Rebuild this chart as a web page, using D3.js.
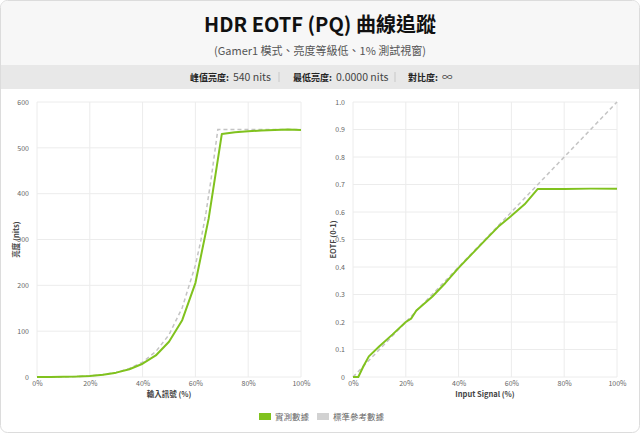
<!DOCTYPE html>
<html><head><meta charset="utf-8">
<script src="https://cdn.jsdelivr.net/npm/d3@7/dist/d3.min.js"></script>
<style>
html,body{margin:0;padding:0;background:#fff;}
svg{display:block;font-family:"Noto Sans CJK TC","Noto Sans",sans-serif;}
</style></head><body>
<svg id="c" width="640" height="433"></svg>
<script>
const title = "HDR EOTF (PQ) 曲線追蹤";
const subtitle = "(Gamer1 模式、亮度等級低、1% 測試視窗)";
const statLabels = ["峰值亮度:", "最低亮度:", "對比度:"];
const statValues = ["540 nits", "0.0000 nits", "∞"];
const legendLabels = ["實測數據", "標準參考數據"];

// Left chart: luminance (nits) vs input signal (%)
const lumX = [0,5,10,15,20,25,30,35,40,45,50,55,60,65,70,75,80,85,90,95,100];
const lumMeasured = [0,0.05,0.3,0.9,2.2,4.8,9.5,17,29,47,77,124,205,345,530,534,536,538,539,540,539];
const lumRefX = [0,5,10,15,20,25,30,35,40,45,50,55,60,62,64,66,68.5,70,75,80,85,90,95,100];
const lumRef = [0,0.06,0.32,1.0,2.4,5.2,10.1,18.4,32.6,55.4,92.2,151,244,296,358,434,540,540,540,540,540,540,540,540];
const lumYTicks = [0,100,200,300,400,500,600];
const xTicks = [0,20,40,60,80,100];

// Right chart: normalized EOTF (0-1) vs input signal (%)
const eotfX = [0,2,4,6,10,15,20,22,24,30,35,40,45,50,55,60,65,70,80,90,100];
const eotfMeasured = [0,0,0.04,0.075,0.112,0.155,0.2,0.212,0.242,0.292,0.342,0.397,0.447,0.497,0.546,0.586,0.628,0.684,0.684,0.685,0.685];
const eotfRefX = [0,2,10,20,30,40,50,60,70,80,90,100];
const eotfRef = [0,0.02,0.1,0.2,0.3,0.4,0.5,0.6,0.7,0.8,0.9,1.0];
const eotfYTicks = [0,0.1,0.2,0.3,0.4,0.5,0.6,0.7,0.8,0.9,1.0];

const GREEN = "#80c21e", REF = "#c4c4c4";
const svg = d3.select("#c");

// card
svg.append("rect").attr("x",0.5).attr("y",0.5).attr("width",639).attr("height",432).attr("rx",7).attr("fill","#fff").attr("stroke","#dcdcdc");
const clipTop = svg.append("clipPath").attr("id","cardclip");
clipTop.append("rect").attr("x",1).attr("y",1).attr("width",638).attr("height",431).attr("rx",6.5);
const hdr = svg.append("g").attr("clip-path","url(#cardclip)");
hdr.append("rect").attr("x",0).attr("y",0).attr("width",640).attr("height",65).attr("fill","#f7f7f7");
hdr.append("rect").attr("x",0).attr("y",65).attr("width",640).attr("height",24).attr("fill","#e8e8e8");

svg.append("text").attr("x",320).attr("y",32).attr("text-anchor","middle").attr("font-size",20).attr("font-weight",700).attr("fill","#111").text(title);
svg.append("text").attr("x",320).attr("y",55).attr("text-anchor","middle").attr("font-size",11).attr("fill","#555").text(subtitle);

// stats
const statStarts = [190, 293, 408];
statLabels.forEach((l,i)=>{
  const t = svg.append("text").attr("x",statStarts[i]).attr("y",81).attr("font-size",10).attr("fill","#222");
  t.append("tspan").attr("font-weight",700).attr("font-size",9).text(l);
  t.append("tspan").attr("dx",4).attr("fill","#444").attr("font-size",10.5).text(statValues[i]);
});
[279, 395].forEach(x=>svg.append("line").attr("x1",x).attr("x2",x).attr("y1",72).attr("y2",82).attr("stroke","#c8c8c8"));

function chart(opts){
  const {x0,x1,y0,y1,yDomain,yTicks,yFmt,xs,ys,rxs,rys,xLabel,yLabel,yLabelX} = opts;
  const x = d3.scaleLinear().domain([0,100]).range([x0,x1]);
  const y = d3.scaleLinear().domain(yDomain).range([y0,y1]);
  const g = svg.append("g");
  // grid
  g.selectAll(".gx").data(xTicks).join("line").attr("x1",d=>x(d)).attr("x2",d=>x(d)).attr("y1",y0).attr("y2",y1).attr("stroke","#ececec");
  g.selectAll(".gy").data(yTicks).join("line").attr("x1",x0).attr("x2",x1).attr("y1",d=>y(d)).attr("y2",d=>y(d)).attr("stroke","#ececec");
  // axes
  const ax = g.append("g").attr("transform",`translate(0,${y0})`).call(d3.axisBottom(x).tickValues(xTicks).tickFormat(d=>d+"%").tickSize(0).tickPadding(4));
  const ay = g.append("g").attr("transform",`translate(${x0},0)`).call(d3.axisLeft(y).tickValues(yTicks).tickFormat(yFmt).tickSize(0).tickPadding(8));
  [ax,ay].forEach(a=>{a.select(".domain").remove(); a.selectAll("text").attr("font-size",7).attr("fill","#666").attr("font-family","'Noto Sans CJK TC',sans-serif");});
  // lines
  const line = d3.line().x(d=>x(d[0])).y(d=>y(d[1]));
  g.append("path").datum(rxs.map((v,i)=>[v,rys[i]])).attr("d",line).attr("fill","none").attr("stroke",REF).attr("stroke-width",1.5).attr("stroke-dasharray","4,3");
  g.append("path").datum(xs.map((v,i)=>[v,ys[i]])).attr("d",line).attr("fill","none").attr("stroke",GREEN).attr("stroke-width",2).attr("stroke-linejoin","round");
  // labels
  g.append("text").attr("x",(x0+x1)/2).attr("y",y0+20).attr("text-anchor","middle").attr("font-size",7.5).attr("font-weight",700).attr("fill","#444").text(xLabel);
  g.append("text").attr("transform",`translate(${yLabelX},${(y0+y1)/2}) rotate(-90)`).attr("text-anchor","middle").attr("font-size",7.5).attr("font-weight",700).attr("fill","#444").text(yLabel);
}

chart({x0:37,x1:301,y0:377,y1:102,yDomain:[0,600],yTicks:lumYTicks,yFmt:d=>d,
  xs:lumX,ys:lumMeasured,rxs:lumRefX,rys:lumRef,xLabel:"輸入訊號 (%)",yLabel:"亮度 (nits)",yLabelX:19});
chart({x0:353,x1:617,y0:377,y1:102,yDomain:[0,1],yTicks:eotfYTicks,yFmt:d=>d===0?"0":d.toFixed(1),
  xs:eotfX,ys:eotfMeasured,rxs:eotfRefX,rys:eotfRef,xLabel:"Input Signal (%)",yLabel:"EOTF (0-1)",yLabelX:336});

// legend
const leg = [{c:GREEN,x:259,t:legendLabels[0]},{c:"#d2d2d2",x:317,t:legendLabels[1]}];
leg.forEach(l=>{
  svg.append("rect").attr("x",l.x).attr("y",413).attr("width",12).attr("height",7).attr("fill",l.c);
  svg.append("text").attr("x",l.x+16).attr("y",420).attr("font-size",8.5).attr("fill","#666").text(l.t);
});
</script></body></html>
